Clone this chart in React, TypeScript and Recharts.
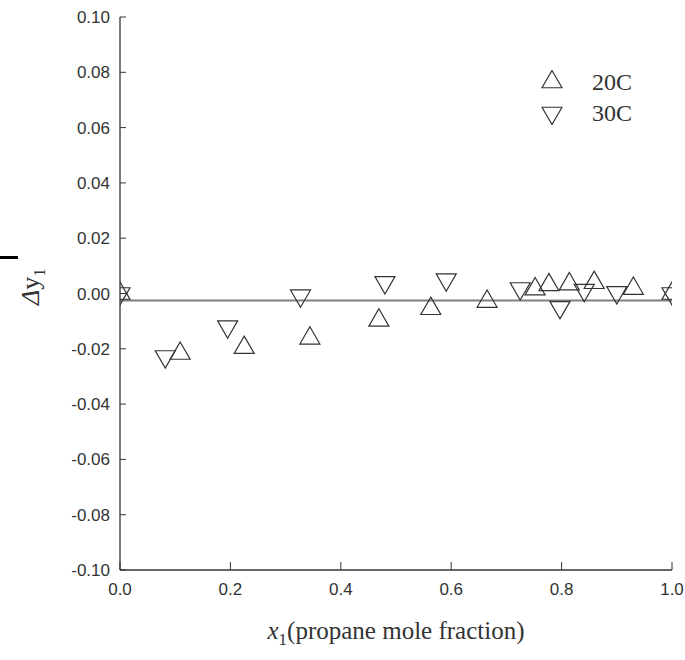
import {
  Legend,
  ReferenceLine,
  Scatter,
  ScatterChart,
  XAxis,
  YAxis,
} from 'recharts'

// propane mole fraction (x1) and deviation in y1 for the two temperatures
const x20C = [0.0, 0.109, 0.225, 0.344, 0.469, 0.563, 0.665, 0.752, 0.777, 0.814, 0.859, 0.93, 1.0]
const dy20C = [0.0, -0.0217, -0.0196, -0.0162, -0.0097, -0.0055, -0.0029, 0.0016, 0.0031, 0.0034, 0.0039, 0.0018, 0.0]

const x30C = [0.0, 0.082, 0.195, 0.327, 0.48, 0.591, 0.725, 0.797, 0.841, 0.9, 1.0]
const dy30C = [0.0, -0.0228, -0.012, -0.0008, 0.004, 0.005, 0.0018, -0.005, 0.0012, 0.0004, 0.0]

const meanLine = -0.0025

const xTicks = [0, 0.2, 0.4, 0.6, 0.8, 1.0]
const yTicks = [-0.1, -0.08, -0.06, -0.04, -0.02, 0, 0.02, 0.04, 0.06, 0.08, 0.1]

const data20 = x20C.map((x, i) => ({ x, y: dy20C[i] }))
const data30 = x30C.map((x, i) => ({ x, y: dy30C[i] }))

const INK = '#333'
const SERIF = '"Liberation Serif", "Times New Roman", serif'
const SANS = '"Liberation Sans", Arial, sans-serif'
const SIDE = 20
const H = (SIDE * Math.sqrt(3)) / 2

function triPoints(cx: number, cy: number, down: boolean) {
  if (!down) {
    return `${cx},${cy - (2 * H) / 3} ${cx + SIDE / 2},${cy + H / 3} ${cx - SIDE / 2},${cy + H / 3}`
  }
  return `${cx},${cy + (2 * H) / 3} ${cx + SIDE / 2},${cy - H / 3} ${cx - SIDE / 2},${cy - H / 3}`
}

const UpTri = (p: any) => (
  <polygon points={triPoints(p.cx, p.cy, false)} fill='none' stroke={INK} strokeWidth={1.2} />
)
const DownTri = (p: any) => (
  <polygon points={triPoints(p.cx, p.cy, true)} fill='none' stroke={INK} strokeWidth={1.2} />
)

function XTitle({ viewBox }: any) {
  const cx = viewBox.x + viewBox.width / 2
  return (
    <text x={cx} y={viewBox.y + 69} textAnchor='middle' fontFamily={SERIF} fontSize={25} fill={INK}>
      <tspan fontStyle='italic'>x</tspan>
      <tspan fontSize={17} dy={6}>1</tspan>
      <tspan dy={-6}>(propane mole fraction)</tspan>
    </text>
  )
}

function YTitle({ viewBox }: any) {
  const x = 39
  const y = viewBox.y + viewBox.height / 2 - 7
  return (
    <text x={x} y={y} transform={`rotate(-90, ${x}, ${y})`} textAnchor='middle' fontFamily={SERIF} fontSize={26} fill={INK}>
      <tspan fontStyle='italic'>Δ</tspan>
      <tspan>y</tspan>
      <tspan fontSize={17} dy={6}>1</tspan>
    </text>
  )
}

function LegendBox({ payload }: any) {
  return (
    <div style={{ fontFamily: SERIF, fontSize: 24, color: INK }}>
      {(payload || []).map((item: any, i: number) => (
        <div key={item.value} style={{ display: 'flex', alignItems: 'center', height: 24, marginBottom: 7 }}>
          <svg width={22} height={24}>
            <polygon points={triPoints(11, 12, i === 1)} fill='none' stroke={INK} strokeWidth={1.2} />
          </svg>
          <span style={{ marginLeft: 29, lineHeight: '24px' }}>{item.value}</span>
        </div>
      ))}
    </div>
  )
}

export default function App() {
  return (
    <div style={{ position: 'absolute', left: 0, top: 0, width: 685, height: 660, background: '#fff' }}>
      <div style={{ position: 'absolute', left: 0, top: 256, width: 18, height: 3, background: '#000' }} />
      <ScatterChart width={685} height={660} margin={{ top: 17, right: 13, bottom: 0, left: 0 }}>
        <XAxis
          type='number'
          dataKey='x'
          domain={[0, 1]}
          ticks={xTicks}
          tickFormatter={v => Number(v).toFixed(1)}
          height={90}
          tickSize={-8}
          tickMargin={21}
          axisLine={{ stroke: INK, strokeWidth: 1.3 }}
          tickLine={{ stroke: INK }}
          tick={{ fill: INK, fontSize: 17, fontFamily: SANS }}
          allowDataOverflow
          label={{ content: XTitle }}
        />
        <XAxis
          xAxisId='top'
          orientation='top'
          type='number'
          domain={[0, 1]}
          height={0}
          tick={false}
          tickLine={false}
          axisLine={{ stroke: '#888', strokeWidth: 1.3 }}
        />
        <YAxis
          type='number'
          dataKey='y'
          domain={[-0.1, 0.1]}
          ticks={yTicks}
          tickFormatter={v => Number(v).toFixed(2)}
          width={120}
          tickSize={-6}
          tickMargin={16}
          axisLine={{ stroke: INK, strokeWidth: 1.3 }}
          tickLine={{ stroke: INK }}
          tick={{ fill: INK, fontSize: 17, fontFamily: SANS }}
          allowDataOverflow
          label={{ content: YTitle }}
        />
        <YAxis
          yAxisId='right'
          orientation='right'
          type='number'
          domain={[-0.1, 0.1]}
          width={0}
          tick={false}
          tickLine={false}
          axisLine={{ stroke: INK, strokeWidth: 1.3 }}
        />
        <ReferenceLine y={meanLine} stroke='#808080' strokeWidth={2} />
        <Scatter name='20C' data={data20} shape={UpTri} isAnimationActive={false} />
        <Scatter name='30C' data={data30} shape={DownTri} isAnimationActive={false} />
        <Legend
          layout='vertical'
          align='center'
          verticalAlign='middle'
          content={LegendBox}
          wrapperStyle={{ left: 541, top: 70, width: 120, height: 60 }}
        />
      </ScatterChart>
    </div>
  )
}
